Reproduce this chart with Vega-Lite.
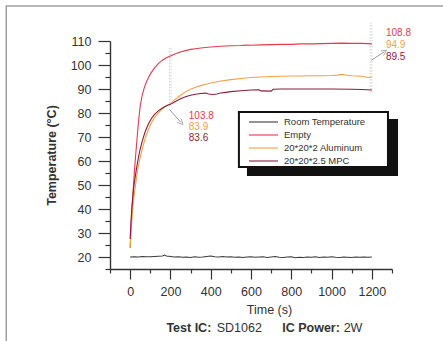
{
  "$schema": "https://vega.github.io/schema/vega-lite/v6.json",
  "width": 282,
  "height": 228,
  "autosize": {"type": "none"},
  "padding": {"left": 110, "top": 41, "right": 51, "bottom": 72},
  "background": "white",
  "config": {
    "view": {"stroke": null},
    "font": "Liberation Sans",
    "axis": {"grid": false, "domainColor": "#333", "tickColor": "#333", "labelColor": "#333", "titleColor": "#333", "domainWidth": 1.4, "tickWidth": 1.2, "labelFontSize": 12.5, "titleFontSize": 12.5, "labelFlush": false, "labelOverlap": false}
  },
  "datasets": {
    "frame": [{"t": -615, "v": 124.6, "t2": 3000, "v2": -300}],
    "shadow": [{"t": 580, "v": 77.5, "t2": 1330, "v2": 53.75}],
    "box": [{"t": 540, "v": 80.4, "t2": 1280, "v2": 57.5}],
    "dash": [
      {"t": 196, "v": 84, "v2": 107.5},
      {"t": 203, "v": 84, "v2": 107.5},
      {"t": 1192, "v": 88.5, "v2": 117.5},
      {"t": 1200, "v": 88.5, "v2": 117.5}
    ],
    "arrows": [
      {"id": "a", "t": 195, "v": 81.5, "t2": 253, "v2": 76},
      {"id": "b", "t": 1198, "v": 102, "t2": 1262, "v2": 105.5}
    ],
    "values": [
      {"t": 291, "v": 78.9, "s": "Empty", "txt": "103.8"},
      {"t": 291, "v": 74.3, "s": "20*20*2 Aluminum", "txt": "83.9"},
      {"t": 291, "v": 69.4, "s": "20*20*2.5 MPC", "txt": "83.6"},
      {"t": 1270, "v": 113.2, "s": "Empty", "txt": "108.8"},
      {"t": 1270, "v": 108.2, "s": "20*20*2 Aluminum", "txt": "94.9"},
      {"t": 1270, "v": 103.5, "s": "20*20*2.5 MPC", "txt": "89.5"}
    ],
    "foot": [
      {"t": 180, "v": -9.7, "part": "key", "txt": "Test IC:"},
      {"t": 430, "v": -9.7, "part": "value", "txt": "SD1062"},
      {"t": 755, "v": -9.7, "part": "key", "txt": "IC Power:"},
      {"t": 1060, "v": -9.7, "part": "value", "txt": "2W"}
    ],
    "curves": [
      {"s": "Room Temperature", "t": 0, "v": 20.0}, {"s": "Room Temperature", "t": 20, "v": 20.1}, {"s": "Room Temperature", "t": 40, "v": 20.0}, {"s": "Room Temperature", "t": 60, "v": 20.2}, {"s": "Room Temperature", "t": 80, "v": 20.1}, {"s": "Room Temperature", "t": 100, "v": 20.1}, {"s": "Room Temperature", "t": 120, "v": 20.2}, {"s": "Room Temperature", "t": 140, "v": 20.3}, {"s": "Room Temperature", "t": 160, "v": 20.4}, {"s": "Room Temperature", "t": 170, "v": 20.8}, {"s": "Room Temperature", "t": 180, "v": 20.4}, {"s": "Room Temperature", "t": 200, "v": 20.2}, {"s": "Room Temperature", "t": 220, "v": 20.0}, {"s": "Room Temperature", "t": 240, "v": 20.1}, {"s": "Room Temperature", "t": 260, "v": 19.9}, {"s": "Room Temperature", "t": 280, "v": 20.0}, {"s": "Room Temperature", "t": 300, "v": 19.8}, {"s": "Room Temperature", "t": 320, "v": 20.1}, {"s": "Room Temperature", "t": 340, "v": 19.9}, {"s": "Room Temperature", "t": 360, "v": 20.0}, {"s": "Room Temperature", "t": 380, "v": 20.2}, {"s": "Room Temperature", "t": 400, "v": 20.4}, {"s": "Room Temperature", "t": 420, "v": 20.1}, {"s": "Room Temperature", "t": 440, "v": 20.0}, {"s": "Room Temperature", "t": 460, "v": 20.2}, {"s": "Room Temperature", "t": 480, "v": 20.0}, {"s": "Room Temperature", "t": 500, "v": 20.1}, {"s": "Room Temperature", "t": 520, "v": 19.9}, {"s": "Room Temperature", "t": 540, "v": 20.0}, {"s": "Room Temperature", "t": 560, "v": 19.8}, {"s": "Room Temperature", "t": 580, "v": 20.0}, {"s": "Room Temperature", "t": 600, "v": 20.1}, {"s": "Room Temperature", "t": 620, "v": 19.9}, {"s": "Room Temperature", "t": 640, "v": 20.0}, {"s": "Room Temperature", "t": 660, "v": 20.1}, {"s": "Room Temperature", "t": 680, "v": 19.8}, {"s": "Room Temperature", "t": 700, "v": 20.0}, {"s": "Room Temperature", "t": 720, "v": 20.2}, {"s": "Room Temperature", "t": 740, "v": 19.9}, {"s": "Room Temperature", "t": 760, "v": 19.8}, {"s": "Room Temperature", "t": 780, "v": 20.0}, {"s": "Room Temperature", "t": 800, "v": 20.1}, {"s": "Room Temperature", "t": 820, "v": 19.7}, {"s": "Room Temperature", "t": 840, "v": 19.9}, {"s": "Room Temperature", "t": 860, "v": 19.8}, {"s": "Room Temperature", "t": 880, "v": 20.0}, {"s": "Room Temperature", "t": 900, "v": 19.9}, {"s": "Room Temperature", "t": 920, "v": 20.1}, {"s": "Room Temperature", "t": 940, "v": 19.8}, {"s": "Room Temperature", "t": 960, "v": 20.0}, {"s": "Room Temperature", "t": 980, "v": 19.9}, {"s": "Room Temperature", "t": 1000, "v": 20.1}, {"s": "Room Temperature", "t": 1020, "v": 19.9}, {"s": "Room Temperature", "t": 1040, "v": 19.8}, {"s": "Room Temperature", "t": 1060, "v": 20.0}, {"s": "Room Temperature", "t": 1080, "v": 19.9}, {"s": "Room Temperature", "t": 1100, "v": 19.8}, {"s": "Room Temperature", "t": 1120, "v": 20.0}, {"s": "Room Temperature", "t": 1140, "v": 19.9}, {"s": "Room Temperature", "t": 1160, "v": 20.0}, {"s": "Room Temperature", "t": 1180, "v": 19.9}, {"s": "Room Temperature", "t": 1200, "v": 20.0},
      {"s": "Empty", "t": 0, "v": 23.8}, {"s": "Empty", "t": 5, "v": 33}, {"s": "Empty", "t": 10, "v": 41}, {"s": "Empty", "t": 15, "v": 48}, {"s": "Empty", "t": 20, "v": 54}, {"s": "Empty", "t": 25, "v": 60}, {"s": "Empty", "t": 30, "v": 65}, {"s": "Empty", "t": 40, "v": 75}, {"s": "Empty", "t": 50, "v": 83}, {"s": "Empty", "t": 60, "v": 87.5}, {"s": "Empty", "t": 70, "v": 90.5}, {"s": "Empty", "t": 80, "v": 92.8}, {"s": "Empty", "t": 90, "v": 94.6}, {"s": "Empty", "t": 100, "v": 96.2}, {"s": "Empty", "t": 120, "v": 98.7}, {"s": "Empty", "t": 140, "v": 100.6}, {"s": "Empty", "t": 160, "v": 102.0}, {"s": "Empty", "t": 180, "v": 103.0}, {"s": "Empty", "t": 200, "v": 103.8}, {"s": "Empty", "t": 225, "v": 104.7}, {"s": "Empty", "t": 250, "v": 105.4}, {"s": "Empty", "t": 275, "v": 106.0}, {"s": "Empty", "t": 300, "v": 106.5}, {"s": "Empty", "t": 325, "v": 106.8}, {"s": "Empty", "t": 350, "v": 107.1}, {"s": "Empty", "t": 375, "v": 107.3}, {"s": "Empty", "t": 400, "v": 107.5}, {"s": "Empty", "t": 450, "v": 107.8}, {"s": "Empty", "t": 500, "v": 108.0}, {"s": "Empty", "t": 550, "v": 108.1}, {"s": "Empty", "t": 580, "v": 108.3}, {"s": "Empty", "t": 600, "v": 108.2}, {"s": "Empty", "t": 650, "v": 108.4}, {"s": "Empty", "t": 700, "v": 108.5}, {"s": "Empty", "t": 750, "v": 108.6}, {"s": "Empty", "t": 800, "v": 108.6}, {"s": "Empty", "t": 850, "v": 108.8}, {"s": "Empty", "t": 900, "v": 108.8}, {"s": "Empty", "t": 950, "v": 108.9}, {"s": "Empty", "t": 1000, "v": 109.0}, {"s": "Empty", "t": 1050, "v": 109.1}, {"s": "Empty", "t": 1100, "v": 109.0}, {"s": "Empty", "t": 1150, "v": 109.0}, {"s": "Empty", "t": 1180, "v": 108.9}, {"s": "Empty", "t": 1200, "v": 108.8},
      {"s": "20*20*2 Aluminum", "t": 0, "v": 24}, {"s": "20*20*2 Aluminum", "t": 5, "v": 31}, {"s": "20*20*2 Aluminum", "t": 10, "v": 37}, {"s": "20*20*2 Aluminum", "t": 15, "v": 42}, {"s": "20*20*2 Aluminum", "t": 20, "v": 45.8}, {"s": "20*20*2 Aluminum", "t": 30, "v": 52}, {"s": "20*20*2 Aluminum", "t": 40, "v": 57.5}, {"s": "20*20*2 Aluminum", "t": 50, "v": 61.5}, {"s": "20*20*2 Aluminum", "t": 60, "v": 65}, {"s": "20*20*2 Aluminum", "t": 75, "v": 69.5}, {"s": "20*20*2 Aluminum", "t": 90, "v": 73}, {"s": "20*20*2 Aluminum", "t": 105, "v": 75.8}, {"s": "20*20*2 Aluminum", "t": 120, "v": 78}, {"s": "20*20*2 Aluminum", "t": 140, "v": 80}, {"s": "20*20*2 Aluminum", "t": 160, "v": 81.8}, {"s": "20*20*2 Aluminum", "t": 180, "v": 83}, {"s": "20*20*2 Aluminum", "t": 200, "v": 83.9}, {"s": "20*20*2 Aluminum", "t": 225, "v": 85.8}, {"s": "20*20*2 Aluminum", "t": 250, "v": 87.4}, {"s": "20*20*2 Aluminum", "t": 275, "v": 88.8}, {"s": "20*20*2 Aluminum", "t": 300, "v": 89.9}, {"s": "20*20*2 Aluminum", "t": 325, "v": 90.7}, {"s": "20*20*2 Aluminum", "t": 350, "v": 91.4}, {"s": "20*20*2 Aluminum", "t": 375, "v": 92.0}, {"s": "20*20*2 Aluminum", "t": 400, "v": 92.5}, {"s": "20*20*2 Aluminum", "t": 450, "v": 93.3}, {"s": "20*20*2 Aluminum", "t": 500, "v": 93.9}, {"s": "20*20*2 Aluminum", "t": 550, "v": 94.4}, {"s": "20*20*2 Aluminum", "t": 600, "v": 94.8}, {"s": "20*20*2 Aluminum", "t": 650, "v": 95.0}, {"s": "20*20*2 Aluminum", "t": 700, "v": 95.2}, {"s": "20*20*2 Aluminum", "t": 750, "v": 95.3}, {"s": "20*20*2 Aluminum", "t": 800, "v": 95.4}, {"s": "20*20*2 Aluminum", "t": 850, "v": 95.4}, {"s": "20*20*2 Aluminum", "t": 900, "v": 95.5}, {"s": "20*20*2 Aluminum", "t": 950, "v": 95.5}, {"s": "20*20*2 Aluminum", "t": 1000, "v": 95.6}, {"s": "20*20*2 Aluminum", "t": 1030, "v": 95.8}, {"s": "20*20*2 Aluminum", "t": 1050, "v": 96.1}, {"s": "20*20*2 Aluminum", "t": 1070, "v": 95.8}, {"s": "20*20*2 Aluminum", "t": 1100, "v": 95.5}, {"s": "20*20*2 Aluminum", "t": 1150, "v": 95.3}, {"s": "20*20*2 Aluminum", "t": 1180, "v": 94.8}, {"s": "20*20*2 Aluminum", "t": 1200, "v": 95.0},
      {"s": "20*20*2.5 MPC", "t": 0, "v": 27.5}, {"s": "20*20*2.5 MPC", "t": 5, "v": 36}, {"s": "20*20*2.5 MPC", "t": 10, "v": 42}, {"s": "20*20*2.5 MPC", "t": 15, "v": 46.5}, {"s": "20*20*2.5 MPC", "t": 20, "v": 50.5}, {"s": "20*20*2.5 MPC", "t": 30, "v": 56}, {"s": "20*20*2.5 MPC", "t": 40, "v": 61}, {"s": "20*20*2.5 MPC", "t": 50, "v": 65}, {"s": "20*20*2.5 MPC", "t": 60, "v": 68.3}, {"s": "20*20*2.5 MPC", "t": 75, "v": 72.3}, {"s": "20*20*2.5 MPC", "t": 90, "v": 75.3}, {"s": "20*20*2.5 MPC", "t": 105, "v": 77.6}, {"s": "20*20*2.5 MPC", "t": 120, "v": 79.3}, {"s": "20*20*2.5 MPC", "t": 140, "v": 80.9}, {"s": "20*20*2.5 MPC", "t": 160, "v": 82.1}, {"s": "20*20*2.5 MPC", "t": 180, "v": 83.0}, {"s": "20*20*2.5 MPC", "t": 200, "v": 83.6}, {"s": "20*20*2.5 MPC", "t": 225, "v": 84.8}, {"s": "20*20*2.5 MPC", "t": 250, "v": 85.9}, {"s": "20*20*2.5 MPC", "t": 275, "v": 86.8}, {"s": "20*20*2.5 MPC", "t": 300, "v": 87.4}, {"s": "20*20*2.5 MPC", "t": 325, "v": 87.8}, {"s": "20*20*2.5 MPC", "t": 350, "v": 88.1}, {"s": "20*20*2.5 MPC", "t": 375, "v": 88.3}, {"s": "20*20*2.5 MPC", "t": 390, "v": 87.9}, {"s": "20*20*2.5 MPC", "t": 410, "v": 87.7}, {"s": "20*20*2.5 MPC", "t": 430, "v": 87.9}, {"s": "20*20*2.5 MPC", "t": 450, "v": 88.3}, {"s": "20*20*2.5 MPC", "t": 475, "v": 88.6}, {"s": "20*20*2.5 MPC", "t": 500, "v": 88.9}, {"s": "20*20*2.5 MPC", "t": 550, "v": 89.3}, {"s": "20*20*2.5 MPC", "t": 600, "v": 89.6}, {"s": "20*20*2.5 MPC", "t": 640, "v": 89.7}, {"s": "20*20*2.5 MPC", "t": 650, "v": 89.2}, {"s": "20*20*2.5 MPC", "t": 700, "v": 89.1}, {"s": "20*20*2.5 MPC", "t": 710, "v": 89.9}, {"s": "20*20*2.5 MPC", "t": 750, "v": 90.0}, {"s": "20*20*2.5 MPC", "t": 800, "v": 90.0}, {"s": "20*20*2.5 MPC", "t": 900, "v": 90.0}, {"s": "20*20*2.5 MPC", "t": 1000, "v": 90.0}, {"s": "20*20*2.5 MPC", "t": 1100, "v": 89.9}, {"s": "20*20*2.5 MPC", "t": 1150, "v": 89.8}, {"s": "20*20*2.5 MPC", "t": 1200, "v": 89.6}
    ]
  },
  "resolve": {"axis": {"x": "independent", "y": "independent"}},
  "layer": [
    {
      "layer": [
        {
          "data": {"name": "frame"},
          "mark": {"type": "rect", "fill": null, "stroke": "#a0a0a0", "strokeWidth": 1.5, "clip": false},
          "encoding": {
            "x": {"field": "t", "type": "quantitative", "scale": {"domain": [-100, 1300], "nice": false, "zero": false},
              "axis": {"orient": "bottom", "title": "Time (s)", "values": [0, 200, 400, 600, 800, 1000, 1200], "tickCount": 40, "format": "d", "labelOverlap": false,
                "tickSize": 10, "labelPadding": 6, "titleFontWeight": "normal", "titleX": 159, "titleY": 40, "titleBaseline": "middle"}},
            "x2": {"field": "t2"},
            "y": {"field": "v", "type": "quantitative", "scale": {"domain": [15, 110], "nice": false, "zero": false},
              "axis": {"orient": "left", "title": "Temperature (°C)", "values": [20, 30, 40, 50, 60, 70, 80, 90, 100, 110], "tickCount": 40, "format": "d", "labelOverlap": false,
                "tickSize": 12, "labelPadding": 7, "titleFontWeight": "bold", "titlePadding": 12}},
            "y2": {"field": "v2"}
          }
        },
        {
          "data": {"name": "shadow"},
          "mark": {"type": "rect", "fill": "#111", "clip": false},
          "encoding": {"x": {"field": "t", "type": "quantitative"}, "x2": {"field": "t2"}, "y": {"field": "v", "type": "quantitative"}, "y2": {"field": "v2"}}
        },
        {
          "data": {"name": "box"},
          "mark": {"type": "rect", "fill": "white", "stroke": "#111", "strokeWidth": 2, "clip": false},
          "encoding": {"x": {"field": "t", "type": "quantitative"}, "x2": {"field": "t2"}, "y": {"field": "v", "type": "quantitative"}, "y2": {"field": "v2"}}
        },
        {
          "data": {"name": "dash"},
          "mark": {"type": "rule", "stroke": "#b4b4b4", "strokeWidth": 0.6, "strokeDash": [1.5, 1.5], "clip": false},
          "encoding": {"x": {"field": "t", "type": "quantitative"}, "y": {"field": "v", "type": "quantitative"}, "y2": {"field": "v2"}}
        },
        {
          "data": {"name": "curves"},
          "mark": {"type": "line", "interpolate": "linear"},
          "encoding": {
            "x": {"field": "t", "type": "quantitative"},
            "y": {"field": "v", "type": "quantitative"},
            "color": {"field": "s", "type": "nominal",
              "scale": {"domain": ["Room Temperature", "Empty", "20*20*2 Aluminum", "20*20*2.5 MPC"], "range": ["#3c3c3c", "#e8384f", "#f5a045", "#8c1c3c"]},
              "legend": {"orient": "none", "legendX": 138, "legendY": 75, "title": null, "padding": 0, "symbolType": "M-1,0H4.8", "symbolSize": 100, "labelOffset": 24, "labelFontSize": 9.5, "labelColor": "#333", "rowPadding": 2}},
            "strokeWidth": {"field": "s", "type": "nominal",
              "scale": {"domain": ["Room Temperature", "Empty", "20*20*2 Aluminum", "20*20*2.5 MPC"], "range": [1.1, 1.1, 1.3, 2.4]},
              "legend": {"orient": "none", "legendX": 138, "legendY": 75, "title": null, "padding": 0, "symbolType": "M-1,0H4.8", "symbolSize": 100, "labelOffset": 24, "labelFontSize": 9.5, "labelColor": "#333", "rowPadding": 2}}
          }
        },
        {
          "data": {"name": "arrows"},
          "mark": {"type": "rule", "stroke": "#8a8a8a", "strokeWidth": 0.9, "clip": false},
          "encoding": {"x": {"field": "t", "type": "quantitative"}, "y": {"field": "v", "type": "quantitative"}, "x2": {"field": "t2"}, "y2": {"field": "v2"}}
        },
        {
          "data": {"name": "arrows"},
          "transform": [{"filter": "datum.id === 'a'"}],
          "mark": {"type": "point", "shape": "M-1,1L0,-1L1,1", "filled": false, "stroke": "#8a8a8a", "strokeWidth": 0.9, "size": 30, "angle": 136, "clip": false},
          "encoding": {"x": {"field": "t2", "type": "quantitative"}, "y": {"field": "v2", "type": "quantitative"}}
        },
        {
          "data": {"name": "arrows"},
          "transform": [{"filter": "datum.id === 'b'"}],
          "mark": {"type": "point", "shape": "M-1,1L0,-1L1,1", "filled": false, "stroke": "#8a8a8a", "strokeWidth": 0.9, "size": 30, "angle": 57, "clip": false},
          "encoding": {"x": {"field": "t2", "type": "quantitative"}, "y": {"field": "v2", "type": "quantitative"}}
        },
        {
          "data": {"name": "values"},
          "mark": {"type": "text", "align": "left", "baseline": "middle", "fontSize": 10, "clip": false},
          "encoding": {"x": {"field": "t", "type": "quantitative"}, "y": {"field": "v", "type": "quantitative"}, "text": {"field": "txt"}, "color": {"field": "s", "type": "nominal"}}
        },
        {
          "data": {"name": "foot"},
          "transform": [{"filter": "datum.part === 'key'"}],
          "mark": {"type": "text", "align": "left", "baseline": "middle", "fontSize": 12.5, "fontWeight": "bold", "color": "#333", "clip": false},
          "encoding": {"x": {"field": "t", "type": "quantitative"}, "y": {"field": "v", "type": "quantitative"}, "text": {"field": "txt"}}
        },
        {
          "data": {"name": "foot"},
          "transform": [{"filter": "datum.part === 'value'"}],
          "mark": {"type": "text", "align": "left", "baseline": "middle", "fontSize": 12.5, "color": "#333", "clip": false},
          "encoding": {"x": {"field": "t", "type": "quantitative"}, "y": {"field": "v", "type": "quantitative"}, "text": {"field": "txt"}}
        }
      ]
    },
    {
      "data": {"name": "dash"},
      "mark": {"type": "rule", "opacity": 0},
      "encoding": {
        "x": {"field": "t", "type": "quantitative",
          "axis": {"orient": "bottom", "title": null, "labels": false, "domain": false, "tickSize": 4, "tickCount": 40, "values": [-100, 100, 300, 500, 700, 900, 1100, 1300]}},
        "y": {"field": "v", "type": "quantitative",
          "axis": {"orient": "left", "title": null, "labels": false, "domain": false, "tickSize": 5, "tickCount": 40, "values": [15, 25, 35, 45, 55, 65, 75, 85, 95, 105]}}
      }
    }
  ]
}
